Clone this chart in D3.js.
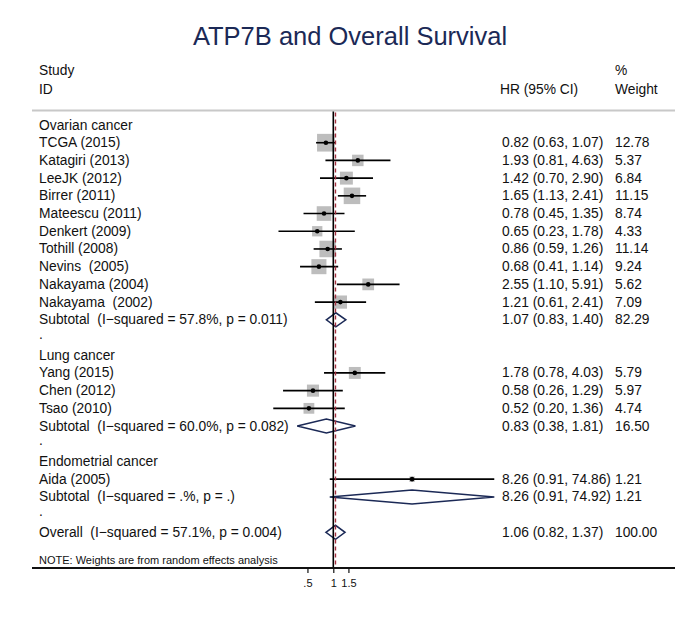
<!DOCTYPE html>
<html>
<head>
<meta charset="utf-8">
<script src="https://cdn.jsdelivr.net/npm/d3@7"></script>
<style>
  html, body { margin: 0; padding: 0; background: #fff; }
  svg { display: block; font-family: "Liberation Sans", Arial, Helvetica, sans-serif; }
  svg text { white-space: pre; }
</style>
</head>
<body>
<svg id="chart" width="700" height="617"></svg>
<script>
// ---------------- DATA ----------------
const title = "ATP7B and Overall Survival";

// row kinds: "head" = group header, "study", "sub" = subtotal/overall diamond, "gap" = "." spacer
const rowLabels = [
  "Ovarian cancer",
  "TCGA (2015)", "Katagiri (2013)", "LeeJK (2012)", "Birrer (2011)", "Mateescu (2011)",
  "Denkert (2009)", "Tothill (2008)", "Nevins  (2005)", "Nakayama (2004)", "Nakayama  (2002)",
  "Subtotal  (I\u2212squared = 57.8%, p = 0.011)",
  ".",
  "Lung cancer",
  "Yang (2015)", "Chen (2012)", "Tsao (2010)",
  "Subtotal  (I\u2212squared = 60.0%, p = 0.082)",
  ".",
  "Endometrial cancer",
  "Aida (2005)",
  "Subtotal  (I\u2212squared = .%, p = .)",
  ".",
  "Overall  (I\u2212squared = 57.1%, p = 0.004)"
];
const rowKinds = [
  "head",
  "study","study","study","study","study","study","study","study","study","study",
  "sub","gap",
  "head",
  "study","study","study",
  "sub","gap",
  "head",
  "study",
  "sub","gap",
  "sub"
];
const hrValues = [null, 0.82,1.93,1.42,1.65,0.78,0.65,0.86,0.68,2.55,1.21, 1.07, null,
                  null, 1.78,0.58,0.52, 0.83, null, null, 8.26, 8.26, null, 1.06];
const ciLower  = [null, 0.63,0.81,0.70,1.13,0.45,0.23,0.59,0.41,1.10,0.61, 0.83, null,
                  null, 0.78,0.26,0.20, 0.38, null, null, 0.91, 0.91, null, 0.82];
const ciUpper  = [null, 1.07,4.63,2.90,2.41,1.35,1.78,1.26,1.14,5.91,2.41, 1.40, null,
                  null, 4.03,1.29,1.36, 1.81, null, null, 74.86, 74.92, null, 1.37];
const weights  = [null, 12.78,5.37,6.84,11.15,8.74,4.33,11.14,9.24,5.62,7.09, 82.29, null,
                  null, 5.79,5.97,4.74, 16.50, null, null, 1.21, 1.21, null, 100.00];
const tickValues = [0.5, 1, 1.5];
const tickLabels = [".5", "1", "1.5"];
const overallHR = 1.06;

// ---------------- LAYOUT ----------------
const svg = d3.select("#chart");
const W = 700, H = 617;
const fontSize = 13.8;
const navy = "#1b2956";
const x1 = 333.3, pxPerLn = 37.3;     // position of HR = 1, pixels per log unit
const xMin = 0.23, xMax = 74.92;

const x = d3.scaleLog()
  .domain([xMin, xMax])
  .range([x1 + pxPerLn * Math.log(xMin), x1 + pxPerLn * Math.log(xMax)]);

const y = d3.scaleLinear().domain([0, rowLabels.length - 1]).range([125, 532.3]);

const leftX = 39, hrX = 502, wtX = 615;
const sepY = 110.5, axisY = 568;

// Title
svg.append("text")
  .attr("x", W / 2).attr("y", 36)
  .attr("text-anchor", "middle").attr("dominant-baseline", "central")
  .attr("font-size", 25.5).attr("fill", navy)
  .text(title);

// Headers
const hdr = svg.append("g").attr("font-size", fontSize).attr("fill", "#111");
hdr.append("text").attr("x", leftX).attr("y", 70).attr("dominant-baseline", "central").text("Study");
hdr.append("text").attr("x", leftX).attr("y", 89).attr("dominant-baseline", "central").text("ID");
hdr.append("text").attr("x", hrX - 2).attr("y", 89).attr("dominant-baseline", "central").text("HR (95% CI)");
hdr.append("text").attr("x", wtX).attr("y", 70).attr("dominant-baseline", "central").text("%");
hdr.append("text").attr("x", wtX).attr("y", 89).attr("dominant-baseline", "central").text("Weight");

// Separator
svg.append("line")
  .attr("x1", 32).attr("x2", 675).attr("y1", sepY).attr("y2", sepY)
  .attr("stroke", "#c8c8c8").attr("stroke-width", 2);

// Rows data
const rows = rowLabels.map((lab, i) => ({
  i, lab, kind: rowKinds[i], hr: hrValues[i], lo: ciLower[i], hi: ciUpper[i], w: weights[i]
}));
const f2 = d3.format(".2f");

// Left labels
svg.append("g").attr("font-size", fontSize).attr("fill", "#111")
  .selectAll("text").data(rows).join("text")
  .attr("x", leftX).attr("y", d => d.kind === "gap" ? y(d.i) - 3 : y(d.i))
  .attr("dominant-baseline", "central")
  .text(d => d.lab);

// HR text and weights
const valRows = rows.filter(d => d.hr !== null);
svg.append("g").attr("font-size", fontSize).attr("fill", "#111")
  .selectAll("text").data(valRows).join("text")
  .attr("x", hrX).attr("y", d => y(d.i)).attr("dominant-baseline", "central")
  .text(d => `${f2(d.hr)} (${f2(d.lo)}, ${f2(d.hi)})`);
svg.append("g").attr("font-size", fontSize).attr("fill", "#111")
  .selectAll("text").data(valRows).join("text")
  .attr("x", wtX).attr("y", d => y(d.i)).attr("dominant-baseline", "central")
  .text(d => f2(d.w));

// Studies: boxes, CI lines, points
const studies = rows.filter(d => d.kind === "study");
const boxSide = w => 4.95 * Math.sqrt(w);
svg.append("g").selectAll("rect").data(studies).join("rect")
  .attr("x", d => x(d.hr) - boxSide(d.w) / 2)
  .attr("y", d => y(d.i) - boxSide(d.w) / 2)
  .attr("width", d => boxSide(d.w)).attr("height", d => boxSide(d.w))
  .attr("fill", "#bdbdbd");
svg.append("g").selectAll("line").data(studies).join("line")
  .attr("x1", d => x(d.lo)).attr("x2", d => x(d.hi))
  .attr("y1", d => y(d.i)).attr("y2", d => y(d.i))
  .attr("stroke", "#000").attr("stroke-width", 1.6);
svg.append("g").selectAll("circle").data(studies).join("circle")
  .attr("cx", d => x(d.hr)).attr("cy", d => y(d.i)).attr("r", 2.3)
  .attr("fill", "#000");

// Diamonds
const subs = rows.filter(d => d.kind === "sub");
const dh = 7;
svg.append("g").selectAll("path").data(subs).join("path")
  .attr("d", d => {
    const yc = y(d.i);
    return `M${x(d.lo)},${yc} L${x(d.hr)},${yc - dh} L${x(d.hi)},${yc} L${x(d.hr)},${yc + dh} Z`;
  })
  .attr("fill", "#fff").attr("stroke", navy).attr("stroke-width", 1.5)
  .attr("stroke-linejoin", "miter");

// Reference lines (drawn over the diamonds, as in the reference)
svg.append("line")
  .attr("x1", x(1)).attr("x2", x(1)).attr("y1", sepY + 1).attr("y2", axisY)
  .attr("stroke", "#000").attr("stroke-width", 1.6);
svg.append("line")
  .attr("x1", x(overallHR)).attr("x2", x(overallHR)).attr("y1", sepY + 2).attr("y2", axisY)
  .attr("stroke", "#a3303f").attr("stroke-width", 1.4).attr("stroke-dasharray", "4,3");

// Note
svg.append("text")
  .attr("x", leftX).attr("y", 559.5).attr("dominant-baseline", "central")
  .attr("font-size", 11).attr("fill", "#111")
  .text("NOTE: Weights are from random effects analysis");

// Axis
svg.append("line")
  .attr("x1", 32).attr("x2", 675).attr("y1", axisY).attr("y2", axisY)
  .attr("stroke", "#111").attr("stroke-width", 1.8);
const axis = d3.axisBottom(x)
  .tickValues(tickValues)
  .tickFormat((d, i) => tickLabels[i])
  .tickSize(5).tickPadding(6);
const ga = svg.append("g").attr("transform", `translate(0,${axisY})`).call(axis);
ga.select(".domain").remove();
ga.selectAll(".tick line").attr("stroke", "#111").attr("stroke-width", 1.2);
ga.selectAll(".tick text").attr("font-size", 11).attr("fill", "#111")
  .attr("font-family", "Liberation Sans, Arial, sans-serif");
</script>
</body>
</html>
